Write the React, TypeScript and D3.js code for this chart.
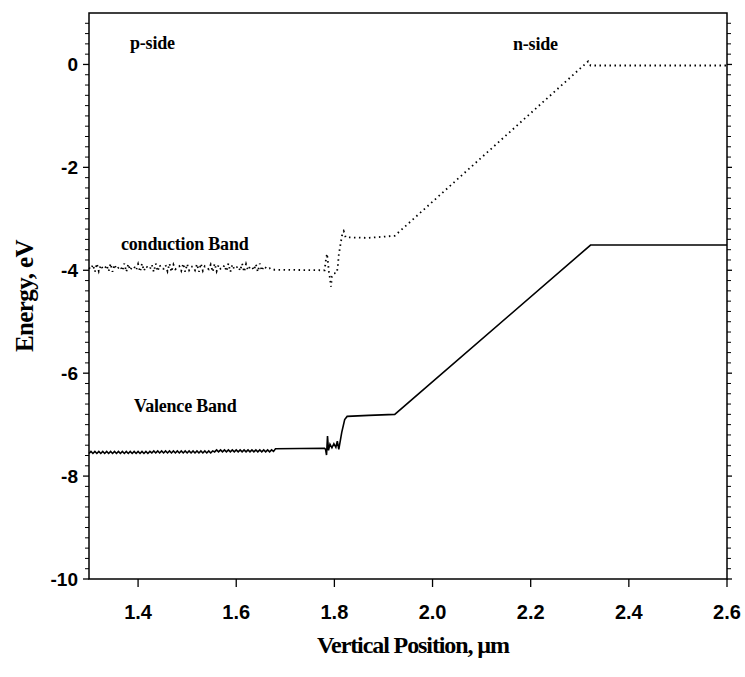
import React from 'react';
import * as d3 from 'd3';

const WIDTH = 745;
const HEIGHT = 677;
const PLOT = { left: 89, top: 13, right: 727, bottom: 579 };

const X_DOMAIN: [number, number] = [1.3, 2.6];
const Y_DOMAIN: [number, number] = [-10, 1];
const xTickValues = [1.4, 1.6, 1.8, 2.0, 2.2, 2.4, 2.6];
const yMajorTickValues = [-10, -8, -6, -4, -2, 0];
const yMinorTickValues = [
  -9.8, -9.6, -9.4, -9.2, -9, -8.8, -8.6, -8.4, -8.2, -7.8, -7.6, -7.4, -7.2, -7, -6.8, -6.6,
  -6.4, -6.2, -5.8, -5.6, -5.4, -5.2, -5, -4.8, -4.6, -4.4, -4.2, -3.8, -3.6, -3.4, -3.2, -3,
  -2.8, -2.6, -2.4, -2.2, -1.8, -1.6, -1.4, -1.2, -1, -0.8, -0.6, -0.4, -0.2, 0.2, 0.4, 0.6, 0.8,
];

// Conduction band, p-side region: noisy samples on a 0.004 µm grid starting at 1.300 µm
const cbNoiseStart = 1.3;
const cbNoiseStep = 0.004;
const cbNoise = [
  -3.95, -3.98, -3.89, -4.03, -3.87, -4.02, -3.9, -3.97, -3.97, -3.9, -4.02, -3.87, -4.03, -3.89, -3.98,
  -3.95, -3.92, -4.01, -3.87, -4.03, -3.88, -4.0, -3.93, -3.93, -4.0, -3.88, -4.03, -3.87, -4.01, -3.92,
  -3.95, -3.98, -3.89, -4.03, -3.87, -4.02, -3.9, -3.97, -3.97, -3.9, -4.02, -3.87, -4.03, -3.89, -3.98,
  -3.95, -3.92, -4.01, -3.87, -4.03, -3.88, -4.0, -3.93, -3.93, -4.0, -3.88, -4.03, -3.87, -4.01, -3.92,
  -3.95, -3.98, -3.89, -4.03, -3.87, -4.02, -3.9, -3.97, -3.97, -3.9, -4.02, -3.87, -4.03, -3.89, -3.98,
  -3.95, -3.92, -4.01, -3.87, -4.03, -3.88, -4.0, -3.93, -3.93, -4.0, -3.88, -4.03, -3.87, -4.01, -3.92,
  -3.95, -3.98, -3.96, -3.99,
];

// Conduction band, junction and n-side: [position µm, energy eV]
const cbProfile: [number, number][] = [
  [1.68, -3.99], [1.78, -4.0], [1.783, -3.78], [1.785, -3.68], [1.787, -3.85], [1.789, -4.05],
  [1.791, -4.15], [1.793, -4.32], [1.795, -4.12], [1.799, -4.06], [1.805, -4.05], [1.807, -3.92],
  [1.809, -3.7], [1.812, -3.52], [1.816, -3.3], [1.819, -3.24], [1.823, -3.36], [1.87, -3.37],
  [1.923, -3.33], [2.31, 0.0], [2.317, 0.06], [2.322, -0.02], [2.6, -0.02],
];

// Valence band, p-side region: noisy samples on a 0.004 µm grid starting at 1.300 µm
const vbNoiseStart = 1.3;
const vbNoiseStep = 0.004;
const vbNoise = [
  -7.56, -7.52, -7.56, -7.52, -7.56, -7.52, -7.56, -7.52, -7.56, -7.52, -7.56, -7.52, -7.56, -7.52, -7.56, -7.52,
  -7.56, -7.52, -7.56, -7.52, -7.56, -7.52, -7.56, -7.52, -7.56, -7.52, -7.56, -7.52, -7.56, -7.52, -7.56, -7.52,
  -7.55, -7.51, -7.55, -7.51, -7.55, -7.51, -7.55, -7.51, -7.55, -7.51, -7.55, -7.51, -7.55, -7.51, -7.55, -7.51,
  -7.55, -7.51, -7.55, -7.51, -7.55, -7.51, -7.55, -7.51, -7.55, -7.51, -7.55, -7.51, -7.55, -7.51, -7.55, -7.51,
  -7.53, -7.49, -7.53, -7.49, -7.53, -7.49, -7.53, -7.49, -7.53, -7.49, -7.53, -7.49, -7.53, -7.49, -7.53, -7.49,
  -7.53, -7.49, -7.53, -7.49, -7.53, -7.49, -7.53, -7.49, -7.53, -7.49, -7.53, -7.49, -7.53, -7.49, -7.52,
];

// Valence band, junction and n-side: [position µm, energy eV]
const vbProfile: [number, number][] = [
  [1.68, -7.47], [1.78, -7.46], [1.782, -7.48], [1.784, -7.59], [1.786, -7.22], [1.788, -7.5],
  [1.791, -7.38], [1.795, -7.45], [1.799, -7.37], [1.803, -7.44], [1.806, -7.32], [1.809, -7.48],
  [1.815, -7.15], [1.821, -6.9], [1.826, -6.84], [1.87, -6.82], [1.923, -6.8], [2.322, -3.51],
  [2.6, -3.51],
];

const toPoints = (start: number, step: number, ys: number[]): [number, number][] =>
  ys.map((y, i) => [start + i * step, y]);

const conductionBand = [...toPoints(cbNoiseStart, cbNoiseStep, cbNoise), ...cbProfile];
const valenceBand = [...toPoints(vbNoiseStart, vbNoiseStep, vbNoise), ...vbProfile];

const serif = '"Liberation Serif", "Times New Roman", serif';
const sans = '"Liberation Sans", Arial, sans-serif';

export default function App() {
  const x = d3.scaleLinear().domain(X_DOMAIN).range([PLOT.left, PLOT.right]);
  const y = d3.scaleLinear().domain(Y_DOMAIN).range([PLOT.bottom, PLOT.top]);
  const line = d3
    .line<[number, number]>()
    .x((d) => x(d[0]))
    .y((d) => y(d[1]));

  const axisColor = '#000';
  return (
    <svg
      width={WIDTH}
      height={HEIGHT}
      style={{ position: 'absolute', left: 0, top: 0, background: '#fff' }}
    >
      <rect x={0} y={0} width={WIDTH} height={HEIGHT} fill="#fff" />

      {/* frame */}
      <rect
        x={PLOT.left}
        y={PLOT.top}
        width={PLOT.right - PLOT.left}
        height={PLOT.bottom - PLOT.top}
        fill="none"
        stroke={axisColor}
        strokeWidth={1.5}
      />

      {/* left and right ticks */}
      {yMajorTickValues.map((v) => (
        <g key={`ym${v}`}>
          <line x1={PLOT.left - 6} x2={PLOT.left} y1={y(v)} y2={y(v)} stroke={axisColor} strokeWidth={1.3} />
          <line x1={PLOT.right} x2={PLOT.right + 5} y1={y(v)} y2={y(v)} stroke={axisColor} strokeWidth={1.3} />
          <text
            x={PLOT.left - 11}
            y={y(v) + 7}
            textAnchor="end"
            fontFamily={sans}
            fontWeight="bold"
            fontSize={19}
          >
            {v}
          </text>
        </g>
      ))}
      {yMinorTickValues.map((v) => (
        <g key={`yn${v}`}>
          <line x1={PLOT.left - 4} x2={PLOT.left} y1={y(v)} y2={y(v)} stroke={axisColor} strokeWidth={1} />
          <line x1={PLOT.right} x2={PLOT.right + 4} y1={y(v)} y2={y(v)} stroke={axisColor} strokeWidth={1} />
        </g>
      ))}

      {/* bottom ticks */}
      {xTickValues.map((v) => (
        <g key={`x${v}`}>
          <line x1={x(v)} x2={x(v)} y1={PLOT.bottom} y2={PLOT.bottom + 8} stroke={axisColor} strokeWidth={1.3} />
          <text x={x(v)} y={PLOT.bottom + 40} textAnchor="middle" fontFamily={sans} fontWeight="bold" fontSize={20}>
            {v.toFixed(1)}
          </text>
        </g>
      ))}

      {/* bands */}
      <path
        d={line(valenceBand) ?? ''}
        fill="none"
        stroke="#000"
        strokeWidth={1.6}
        strokeLinejoin="miter"
      />
      <path
        d={line(conductionBand) ?? ''}
        fill="none"
        stroke="#000"
        strokeWidth={1.8}
        strokeDasharray="1.5 3.5"
      />

      {/* annotations */}
      <g fontFamily={serif} fontWeight="bold" fontSize={18} letterSpacing={-0.2}>
        <text x={130} y={49}>p-side</text>
        <text x={513} y={50}>n-side</text>
        <text x={121} y={250}>conduction Band</text>
        <text x={134} y={412}>Valence Band</text>
      </g>

      {/* axis titles */}
      <text
        x={413}
        y={653}
        textAnchor="middle"
        fontFamily={serif}
        fontWeight="bold"
        fontSize={24}
        letterSpacing={-1.1}
      >
        Vertical Position, µm
      </text>
      <text
        transform="translate(33,296) rotate(-90)"
        textAnchor="middle"
        fontFamily={serif}
        fontWeight="bold"
        fontSize={25}
        letterSpacing={-0.6}
      >
        Energy, eV
      </text>
    </svg>
  );
}
